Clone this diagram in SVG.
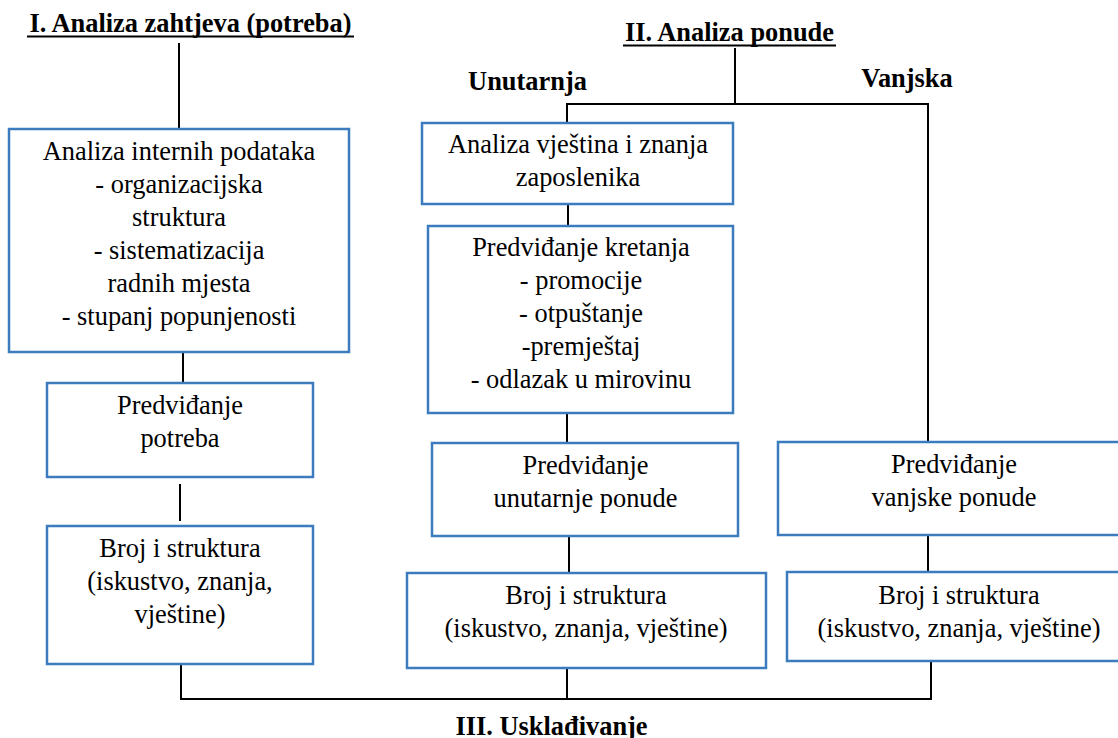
<svg xmlns="http://www.w3.org/2000/svg" width="1118" height="738" viewBox="0 0 1118 738">
<style>
.bx{fill:#fff;stroke:#3B7BBE;stroke-width:2.5}
.lbl{font-family:'Liberation Serif',serif;font-size:26.4px;fill:#000;text-anchor:middle}
.hd{font-family:'Liberation Serif',serif;font-size:26.4px;font-weight:bold;fill:#000;text-anchor:middle}
.c{fill:none;stroke:#000;stroke-width:2}
.ul{stroke:#000;stroke-width:2}
</style>
<rect width="1118" height="738" fill="#fff"/>
<g id="connectors">
<path class="c" d="M179 43V129"/>
<path class="c" d="M183 352V383"/>
<path class="c" d="M180 484V521"/>
<path class="c" d="M181 664V699H931V661"/>
<path class="c" d="M567 668V699"/>
<path class="c" d="M735 48V104"/>
<path class="c" d="M567 123V104H928V442"/>
<path class="c" d="M568 204V226"/>
<path class="c" d="M567 413V443"/>
<path class="c" d="M569 536V573"/>
<path class="c" d="M928 535V572"/>
</g>
<g id="heading1">
<text class="hd" x="190.5" y="32">I. Analiza zahtjeva (potreba)</text>
<line class="ul" x1="27" y1="36.5" x2="354" y2="36.5"/>
</g>
<g id="heading2">
<text class="hd" x="729.5" y="41">II. Analiza ponude</text>
<line class="ul" x1="623" y1="45.5" x2="836" y2="45.5"/>
</g>
<g id="label-unutarnja"><text class="hd" x="527.5" y="90">Unutarnja</text></g>
<g id="label-vanjska"><text class="hd" x="907" y="87">Vanjska</text></g>
<g id="heading3"><text class="hd" x="551.5" y="735">III. Usklađivanje</text></g>
<g id="n1">
<rect class="bx" x="9" y="129" width="340" height="223"/>
<text class="lbl" x="179" y="160">Analiza internih podataka</text>
<text class="lbl" x="179" y="193">- organizacijska</text>
<text class="lbl" x="179" y="226">struktura</text>
<text class="lbl" x="179" y="259">- sistematizacija</text>
<text class="lbl" x="179" y="292">radnih mjesta</text>
<text class="lbl" x="179" y="325">- stupanj popunjenosti</text>
</g>
<g id="n2">
<rect class="bx" x="47" y="383" width="266" height="94"/>
<text class="lbl" x="180" y="414">Predviđanje</text>
<text class="lbl" x="180" y="447">potreba</text>
</g>
<g id="n3">
<rect class="bx" x="47" y="526" width="266" height="138"/>
<text class="lbl" x="180" y="557">Broj i struktura</text>
<text class="lbl" x="180" y="590">(iskustvo, znanja,</text>
<text class="lbl" x="180" y="623">vještine)</text>
</g>
<g id="n4">
<rect class="bx" x="422" y="123" width="311" height="81"/>
<text class="lbl" x="578" y="153">Analiza vještina i znanja</text>
<text class="lbl" x="578" y="186">zaposlenika</text>
</g>
<g id="n5">
<rect class="bx" x="428" y="226" width="305" height="187"/>
<text class="lbl" x="581" y="256">Predviđanje kretanja</text>
<text class="lbl" x="581" y="289">- promocije</text>
<text class="lbl" x="581" y="322">- otpuštanje</text>
<text class="lbl" x="581" y="355">-premještaj</text>
<text class="lbl" x="581" y="388">- odlazak u mirovinu</text>
</g>
<g id="n6">
<rect class="bx" x="432" y="443" width="306" height="93"/>
<text class="lbl" x="585.5" y="474">Predviđanje</text>
<text class="lbl" x="585.5" y="507">unutarnje ponude</text>
</g>
<g id="n7">
<rect class="bx" x="407" y="573" width="359" height="95"/>
<text class="lbl" x="586" y="604">Broj i struktura</text>
<text class="lbl" x="586" y="637">(iskustvo, znanja, vještine)</text>
</g>
<g id="n8">
<rect class="bx" x="778" y="442" width="352" height="93"/>
<text class="lbl" x="954" y="473">Predviđanje</text>
<text class="lbl" x="954" y="506">vanjske ponude</text>
</g>
<g id="n9">
<rect class="bx" x="787" y="572" width="345" height="89"/>
<text class="lbl" x="959" y="604">Broj i struktura</text>
<text class="lbl" x="959" y="637">(iskustvo, znanja, vještine)</text>
</g>
</svg>
